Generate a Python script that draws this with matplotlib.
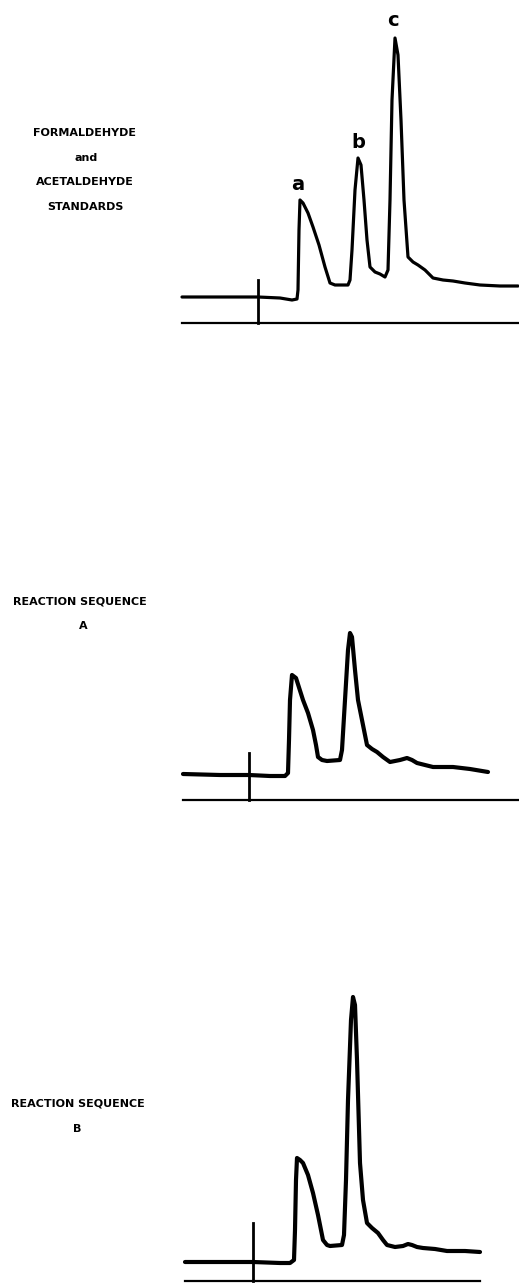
import matplotlib.pyplot as plt

W, H = 519, 1283  # output size in pixels

# chromatogram traces: time (arbitrary units, injection at 0) vs detector response
std_time = [-7.6, -2.8, 0, 2.2, 3.4, 3.9, 4.0, 4.1, 4.2, 4.5, 5.0, 5.5, 6.1, 6.7, 7.2, 7.7,
            9.0, 9.2, 9.4, 9.7, 10.0, 10.3, 10.6, 10.9, 11.2, 11.7, 12.2, 12.7, 13.0, 13.2,
            13.4, 13.7, 14.0, 14.3, 14.6, 15.0, 15.5, 16.0, 16.7, 17.5, 18.5, 19.5, 20.7,
            22.2, 24.2, 26.0]
std_resp = [2.6, 2.6, 2.6, 2.5, 2.3, 2.4, 3.3, 9.3, 12.3, 12.0, 11.0, 9.6, 7.8, 5.6, 4.0, 3.8,
            3.8, 4.3, 7.3, 13.3, 16.5, 15.8, 12.3, 8.3, 5.6, 5.1, 4.9, 4.6, 5.3, 12.3,
            22.3, 28.5, 26.8, 20.3, 12.3, 6.6, 6.1, 5.8, 5.3, 4.5, 4.3, 4.2, 4.0,
            3.8, 3.7, 3.7]

seqA_time = [-6.6, -2.9, 0, 2.1, 3.6, 3.9, 4.0, 4.1, 4.3, 4.7, 5.4, 5.9, 6.4, 6.7, 6.9, 7.3,
             7.8, 9.1, 9.3, 9.6, 9.9, 10.1, 10.3, 10.6, 10.9, 11.3, 11.8, 12.3, 12.8, 13.4,
             14.1, 14.6, 15.1, 15.8, 16.3, 16.8, 17.6, 18.4, 20.4, 22.1, 23.9]
seqA_resp = [2.6, 2.5, 2.5, 2.4, 2.4, 2.7, 6.0, 10.0, 12.5, 12.2, 10.0, 8.7, 7.0, 5.5, 4.3, 4.0,
             3.9, 4.0, 5.0, 10.0, 15.0, 16.7, 16.3, 13.0, 10.0, 8.0, 5.5, 5.1, 4.8, 4.3,
             3.8, 3.9, 4.0, 4.2, 4.0, 3.7, 3.5, 3.3, 3.3, 3.1, 2.8]

seqB_time = [-6.8, -3.3, 0, 2.7, 3.7, 4.1, 4.2, 4.3, 4.4, 4.7, 5.0, 5.5, 6.0, 6.5, 7.0, 7.4,
             7.7, 8.9, 9.1, 9.3, 9.5, 9.8, 10.0, 10.2, 10.4, 10.7, 11.0, 11.4, 11.9, 12.5,
             13.0, 13.4, 14.2, 15.0, 15.5, 15.9, 16.4, 17.0, 18.2, 19.4, 21.2, 22.7]
seqB_resp = [1.9, 1.9, 1.9, 1.8, 1.8, 2.1, 5.1, 10.1, 12.3, 12.1, 11.8, 10.6, 8.8, 6.6, 4.1, 3.6,
             3.5, 3.6, 4.6, 10.1, 18.1, 26.1, 28.4, 27.6, 22.1, 11.8, 8.1, 5.8, 5.3, 4.8,
             4.1, 3.6, 3.4, 3.5, 3.7, 3.6, 3.4, 3.3, 3.2, 3.0, 3.0, 2.9]

peak_names = ["a", "b", "c"]
peak_time = [4.0, 10.0, 13.5]
peak_resp = [13.8, 18.0, 30.3]

inject_height = [4.3, 4.7, 5.8]

fig = plt.figure(figsize=(W / 100, H / 100), dpi=100)


def make_axes(left, right, top, bottom, xlim, ylim):
    ax = fig.add_axes([left / W, 1 - bottom / H, (right - left) / W, (bottom - top) / H])
    ax.set_xlim(*xlim)
    ax.set_ylim(*ylim)
    for s in ["top", "left", "right"]:
        ax.spines[s].set_visible(False)
    ax.spines["bottom"].set_linewidth(1.6)
    ax.set_xticks([])
    ax.set_yticks([])
    ax.patch.set_alpha(0)
    return ax


panels = [
    (std_time, std_resp, (182, 519, 0, 323), (-7.6, 26.1), (0, 32.3), 2.3),
    (seqA_time, seqA_resp, (183, 519, 620, 800), (-6.6, 27.0), (0, 18.0), 3.0),
    (seqB_time, seqB_resp, (185, 480, 980, 1281), (-6.8, 22.7), (0, 30.1), 3.0),
]

axes = []
for i, (t, r, box, xl, yl, lw) in enumerate(panels):
    ax = make_axes(*box, xl, yl)
    ax.plot(t, r, color="black", lw=lw, solid_joinstyle="round",
            solid_capstyle="round", clip_on=False)
    ax.plot([0, 0], [0, inject_height[i]], color="black", lw=2.0, clip_on=False)
    axes.append(ax)

for name, pt, pr in zip(peak_names, peak_time, peak_resp):
    axes[0].text(pt, pr, name, ha="center", va="center", fontsize=14,
                 fontweight="bold", color="black")

# panel captions
cap = dict(ha="center", va="center", fontsize=8, fontweight="heavy", color="black")
fig.text(85 / W, 1 - 133 / H, "FORMALDEHYDE", **cap)
fig.text(86 / W, 1 - 158 / H, "and", **cap)
fig.text(85 / W, 1 - 182 / H, "ACETALDEHYDE", **cap)
fig.text(85 / W, 1 - 207 / H, "STANDARDS", **cap)
fig.text(80 / W, 1 - 602 / H, "REACTION SEQUENCE", **cap)
fig.text(83 / W, 1 - 626 / H, "A", **cap)
fig.text(78 / W, 1 - 1103 / H, "REACTION SEQUENCE", **cap)
fig.text(77 / W, 1 - 1129 / H, "B", **cap)

fig.savefig("out.png", dpi=100)
